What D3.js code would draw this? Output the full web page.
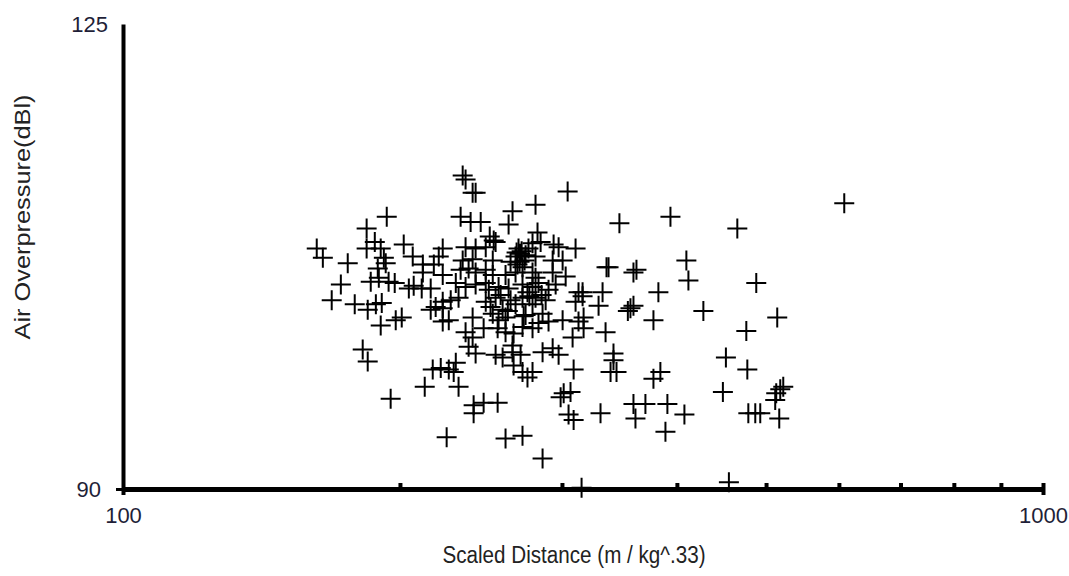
<!DOCTYPE html>
<html lang="en">
<head>
<meta charset="UTF-8">
<title>Air Overpressure vs Scaled Distance</title>
<script src="https://d3js.org/d3.v7.min.js"></script>
<style>
    body { margin: 0; background: #fff; }
    text { font-family: "Liberation Sans", Arial, sans-serif; }
</style>
</head>
<body>
<script>
// scaled distance (m / kg^.33) and air overpressure (dBl) for each blast
const distance = [
  193.5, 184.0, 162.4, 164.9, 175.5, 187.8, 184.0, 190.6, 201.9, 192.1,
  193.0, 189.2, 206.5, 211.8, 211.8, 217.7, 222.6, 220.4, 222.6, 172.5,
  185.9, 189.7, 194.4, 197.4, 204.5, 207.0, 211.2, 216.0, 168.6, 178.6,
  184.5, 188.3, 191.1, 216.0, 218.7, 222.6, 190.6, 197.9, 200.9, 222.6,
  182.2, 184.5, 217.1, 212.8, 195.4, 224.8, 234.0, 235.7, 239.9, 241.7,
  304.3, 280.8, 265.1, 232.8, 238.7, 244.8, 262.5, 282.2, 250.4, 252.9,
  235.7, 241.7, 247.9, 254.1, 269.1, 271.2, 278.7, 284.4, 293.8, 297.5,
  310.4, 234.0, 239.9, 252.3, 267.1, 273.9, 280.8, 293.1, 300.5, 232.8,
  237.5, 241.7, 247.9, 252.3, 260.5, 267.1, 271.8, 278.7, 280.8, 293.1,
  302.8, 230.0, 235.7, 241.7, 247.9, 256.0, 262.5, 271.8, 278.7, 282.9,
  290.1, 312.7, 315.9, 227.1, 231.6, 222.6, 226.0, 239.9, 247.9, 252.3,
  254.1, 258.6, 267.1, 271.8, 278.7, 280.8, 285.8, 290.1, 300.5, 310.4,
  312.7, 235.7, 239.9, 246.6, 255.4, 260.5, 265.8, 271.8, 278.7, 282.9,
  308.1, 237.5, 241.7, 254.1, 258.6, 265.1, 270.5, 265.1, 285.8, 293.1,
  297.5, 265.8, 271.8, 275.2, 278.7, 230.0, 226.0, 228.8, 221.5, 231.6,
  308.9, 301.3, 306.5, 299.0, 240.5, 246.6, 255.4, 240.5, 305.0, 308.9,
  260.5, 271.8, 285.8, 346.4, 393.6, 335.4, 337.1, 358.8, 361.5, 409.6,
  411.7, 315.9, 332.1, 328.8, 381.9, 353.8, 358.8, 356.1, 427.4, 377.2,
  316.7, 334.6, 316.7, 341.3, 341.3, 338.8, 343.9, 383.8, 377.2, 452.2,
  448.8, 330.4, 358.8, 369.7, 390.6, 360.6, 407.6, 388.7, 455.6, 315.1,
  608.1, 465.3, 487.9, 514.2, 475.9, 477.1, 522.0, 518.1, 512.9, 511.6,
  478.3, 486.7, 492.8, 516.8, 267.8, 269.8, 273.2, 263.8, 275.9, 260.5,
  273.9, 263.8, 256.0, 249.8, 257.3, 288.0, 295.3, 275.2, 270.1, 268.4,
  276.5, 262.0, 285.1, 250.9, 272.6
];
const overpressure = [
  110.5, 109.6, 108.1, 107.4, 107.0, 108.6, 108.1, 108.1, 108.4, 107.4,
  107.0, 106.6, 107.5, 106.9, 106.3, 106.9, 108.1, 107.5, 106.1, 105.4,
  105.6, 105.9, 105.6, 105.5, 105.1, 105.3, 105.1, 105.1, 104.2, 103.9,
  103.5, 103.9, 104.0, 103.5, 103.7, 104.1, 102.3, 102.7, 102.9, 102.6,
  100.5, 99.6, 99.0, 97.7, 96.8, 93.9, 113.6, 113.3, 112.3, 112.3,
  112.4, 111.4, 110.9, 110.5, 110.1, 110.1, 109.9, 109.3, 109.0, 108.7,
  108.2, 108.1, 108.2, 108.6, 108.1, 107.9, 108.5, 108.6, 108.4, 108.2,
  108.1, 107.2, 107.3, 107.2, 107.5, 107.6, 107.5, 107.2, 107.2, 106.5,
  106.6, 106.3, 106.5, 106.1, 106.1, 106.3, 106.7, 106.3, 105.9, 106.3,
  106.0, 105.5, 105.2, 105.4, 105.5, 105.2, 105.1, 105.4, 105.2, 105.5,
  105.0, 104.8, 104.5, 104.2, 104.4, 103.6, 102.7, 102.9, 104.1, 103.2,
  104.4, 103.5, 103.9, 104.4, 103.9, 104.4, 103.2, 102.6, 102.7, 104.1,
  102.6, 101.8, 101.4, 102.1, 102.1, 101.8, 101.7, 102.2, 102.1, 102.5,
  101.4, 100.7, 100.2, 100.1, 99.9, 100.3, 100.1, 100.8, 100.3, 100.6,
  100.1, 99.3, 98.8, 98.4, 98.8, 99.5, 99.0, 98.8, 99.1, 97.7,
  99.0, 97.2, 97.3, 96.9, 96.3, 96.5, 96.5, 95.7, 95.6, 95.2,
  93.8, 94.0, 92.3, 110.0, 110.5, 106.7, 106.7, 106.3, 106.5, 107.2,
  105.7, 104.8, 104.8, 103.8, 104.8, 103.4, 103.8, 103.6, 103.4, 102.7,
  102.9, 101.8, 102.1, 100.2, 99.7, 98.8, 98.8, 98.8, 98.3, 99.9,
  97.3, 95.7, 96.4, 96.4, 96.4, 95.3, 95.6, 94.3, 90.5, 90.1,
  111.5, 109.6, 105.5, 102.9, 101.9, 99.0, 97.7, 97.5, 97.2, 96.7,
  95.7, 95.7, 95.7, 95.3, 107.8, 107.1, 107.2, 107.1, 108.1, 102.9,
  103.1, 104.2, 102.7, 105.0, 104.6, 104.2, 105.4, 104.8, 107.7, 106.9,
  104.5, 103.4, 104.6, 103.7, 103.0
];
const xLabelTicks = [100, 1000];
const xMinorTicks = [200, 300, 400, 500, 600, 700, 800, 900, 1000];
const yLabelTicks = [90, 125];

const width = 1069;
const height = 576;

const points = distance.map((d, i) => ({ dist: d, db: overpressure[i] }));

const svg = d3.select('body')
    .append('svg')
    .attr('width', width)
    .attr('height', height);

const x = d3.scaleLog()
    .domain([100, 1000])
    .range([123, 1043]);

const y = d3.scaleLinear()
    .domain([90, 125])
    .range([489, 24]);

// markers (plus signs)
svg.append('g')
    .selectAll('path')
    .data(points)
    .join('path')
    .attr('transform', d => `translate(${x(d.dist)},${y(d.db)})`)
    .attr('d', 'M-10,0H10M0,-10V10')
    .attr('stroke', '#000')
    .attr('stroke-width', 2)
    .attr('fill', 'none');

// y axis
const yAxis = svg.append('g')
    .attr('transform', `translate(${x(100)},0)`)
    .call(d3.axisLeft(y).tickValues(yLabelTicks).tickSize(0).tickSizeOuter(0));
yAxis.select('.domain').attr('stroke-width', 4);
yAxis.selectAll('text')
    .attr('x', d => d === 90 ? -22 : -15)
    .attr('font-size', 22)
    .attr('font-family', '"Liberation Sans", Arial, sans-serif')
    .attr('fill', '#1f1f38');

svg.append('g')
    .attr('transform', `translate(${x(100)},0)`)
    .call(d3.axisLeft(y).tickValues([90]).tickSize(7).tickSizeOuter(0).tickFormat(''))
    .call(g => g.select('.domain').remove())
    .selectAll('line').attr('stroke-width', 3);

// x axis
const xAxis = svg.append('g')
    .attr('transform', `translate(0,${y(90)})`)
    .call(d3.axisBottom(x).tickValues(xLabelTicks).tickSize(6).tickSizeOuter(0)
        .tickPadding(12).tickFormat(d3.format('d')));
xAxis.select('.domain').attr('stroke-width', 5);
xAxis.selectAll('line').attr('stroke-width', 4);
xAxis.selectAll('text')
    .attr('font-size', 22)
    .attr('font-family', '"Liberation Sans", Arial, sans-serif')
    .attr('fill', '#1f1f38');

svg.append('g')
    .attr('transform', `translate(0,${y(90)})`)
    .call(d3.axisTop(x).tickValues(xMinorTicks).tickSize(6).tickSizeOuter(0).tickFormat(''))
    .call(g => g.select('.domain').remove())
    .selectAll('line').attr('stroke-width', 4);

// axis titles
svg.append('text')
    .attr('x', 574)
    .attr('y', 563)
    .attr('text-anchor', 'middle')
    .attr('font-size', 23)
    .attr('textLength', 263)
    .attr('lengthAdjust', 'spacingAndGlyphs')
    .attr('fill', '#222')
    .text('Scaled Distance (m / kg^.33)');

svg.append('text')
    .attr('transform', 'translate(30,217) rotate(-90)')
    .attr('text-anchor', 'middle')
    .attr('font-size', 22)
    .attr('textLength', 245)
    .attr('lengthAdjust', 'spacingAndGlyphs')
    .attr('fill', '#222')
    .text('Air Overpressure(dBl)');
</script>
</body>
</html>
